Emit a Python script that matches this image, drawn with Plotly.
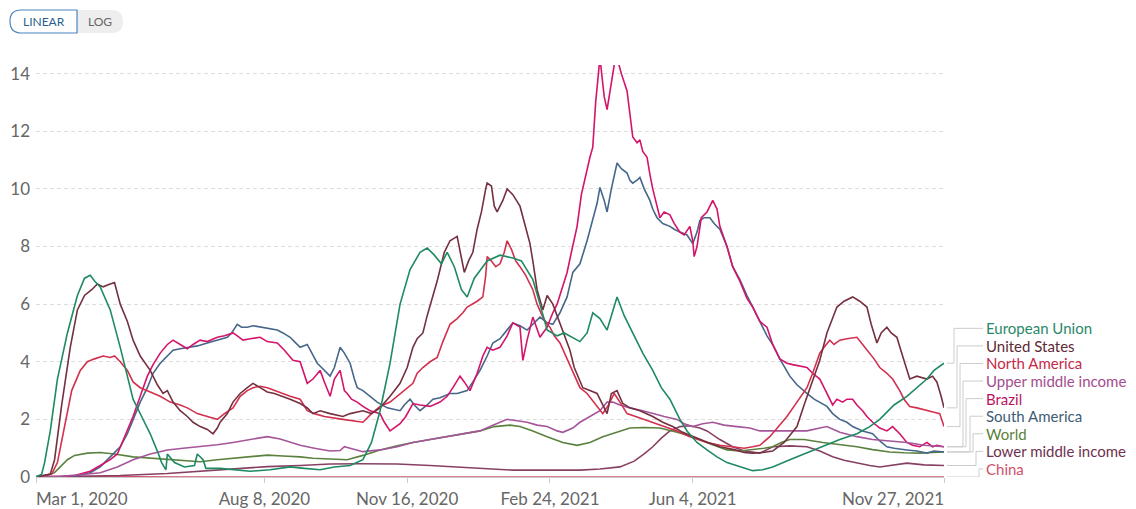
import pandas as pd
import plotly.graph_objects as go

START = pd.Timestamp("2020-03-01")

# days since Mar 1, 2020 / 7-day avg deaths per million
eu_days = [0, 4, 6, 10, 15, 22, 29, 34, 38, 41, 45, 52, 59, 68, 74, 80, 85, 88, 91, 92,
           97, 104, 111, 113, 117, 119, 129, 150, 164, 178, 188, 199, 209, 220, 229, 235, 241, 248, 255, 262,
           269, 274, 279, 284, 288, 293, 298, 302, 307, 316, 325, 334, 340, 348, 353, 358, 365, 370, 381, 386,
           390, 395, 400, 404, 407, 412, 418, 425, 432, 438, 444, 451, 456, 463, 470, 477, 484, 493, 502, 509,
           516, 528, 538, 551, 563, 575, 584, 591, 601, 610, 617, 624, 629, 636]
eu_vals = [0, 0.1, 0.5, 1.6, 3.4, 5.0, 6.3, 6.9, 7.0, 6.8, 6.6, 5.8, 4.5, 2.7, 2.1, 1.5, 0.9, 0.5, 0.25, 0.8,
           0.5, 0.35, 0.4, 0.8, 0.6, 0.3, 0.3, 0.2, 0.25, 0.35, 0.3, 0.25, 0.35, 0.4, 0.6, 1.2, 2.3, 3.95, 6.0, 7.2,
           7.8, 7.95, 7.7, 7.4, 7.8, 7.3, 6.5, 6.25, 6.9, 7.5, 7.7, 7.6, 7.5, 6.85, 6.0, 5.1, 4.9, 5.0, 4.7, 5.0,
           5.7, 5.5, 5.1, 5.8, 6.25, 5.6, 5.0, 4.3, 3.7, 3.1, 2.7, 2.0, 1.6, 1.2, 0.94, 0.7, 0.5, 0.35, 0.22, 0.25,
           0.35, 0.6, 0.8, 1.05, 1.3, 1.5, 1.75, 2.0, 2.5, 2.8, 3.1, 3.4, 3.7, 3.95]

us_days = [0, 10, 13, 18, 24, 29, 34, 39, 43, 47, 52, 55, 59, 64, 68, 73, 80, 85, 89, 92,
           96, 101, 106, 110, 115, 120, 124, 127, 129, 134, 138, 143, 148, 152, 157, 162, 167, 173, 178, 185,
           190, 194, 199, 206, 215, 220, 229, 235, 241, 248, 255, 260, 264, 267, 271, 274, 278, 281, 283, 286,
           290, 295, 298, 300, 303, 306, 309, 312, 315, 316, 319, 321, 323, 327, 330, 334, 339, 342, 346, 348,
           351, 355, 358, 362, 365, 369, 374, 377, 383, 388, 393, 397, 400, 403, 407, 411, 416, 423, 432, 439,
           446, 453, 460, 468, 479, 489, 496, 502, 509, 516, 524, 533, 538, 543, 549, 554, 561, 566, 572, 577,
           582, 585, 589, 592, 596, 599, 603, 607, 612, 617, 624, 628, 631, 634, 636]
us_vals = [0, 0.1, 0.6, 2.5, 4.5, 5.8, 6.3, 6.5, 6.7, 6.6, 6.7, 6.75, 6.0, 5.4, 4.75, 4.2, 3.7, 3.2, 2.9, 3.0,
           2.6, 2.3, 2.1, 1.9, 1.75, 1.65, 1.5, 1.7, 1.9, 2.2, 2.6, 2.9, 3.1, 3.25, 3.1, 2.95, 2.9, 2.8, 2.7, 2.55,
           2.4, 2.2, 2.3, 2.2, 2.1, 2.2, 2.3, 2.2, 2.4, 2.8, 3.25, 3.8, 4.5, 4.8, 5.0, 5.6, 6.25, 6.8, 7.2, 7.8,
           8.2, 8.35, 7.6, 7.1, 7.5, 7.8, 8.6, 9.2, 10.0, 10.2, 10.1, 9.4, 9.2, 9.6, 10.0, 9.8, 9.4, 8.8, 8.1, 7.5,
           6.5, 5.8, 6.3, 6.0, 5.6, 5.1, 4.4, 3.8, 3.1, 3.0, 2.9, 2.5, 2.2, 2.9, 3.0, 2.55, 2.4, 2.3, 2.1, 1.9,
           1.75, 1.55, 1.4, 1.25, 1.05, 0.95, 0.85, 0.83, 0.85, 0.9, 1.2, 1.75, 2.5, 3.2, 4.05, 5.0, 5.9, 6.1, 6.25, 6.1,
           5.9, 5.3, 4.65, 5.0, 5.2, 5.0, 4.85, 4.2, 3.4, 3.5, 3.4, 3.5, 3.3, 2.8, 2.4]

na_days = [0, 11, 15, 20, 25, 31, 36, 41, 47, 52, 55, 59, 64, 68, 73, 80, 87, 94, 101, 106,
           113, 120, 127, 132, 138, 143, 148, 152, 157, 162, 167, 173, 178, 185, 190, 195, 202, 215, 222, 229,
           235, 241, 248, 253, 258, 264, 267, 271, 276, 281, 285, 290, 295, 299, 302, 306, 309, 313, 315, 316,
           319, 322, 325, 328, 330, 333, 336, 339, 343, 348, 351, 355, 358, 360, 363, 367, 371, 376, 381, 386,
           391, 397, 401, 405, 409, 414, 423, 432, 440, 449, 458, 470, 479, 488, 496, 502, 507, 514, 519, 526,
           533, 540, 544, 549, 552, 556, 559, 563, 568, 575, 579, 584, 587, 591, 596, 600, 605, 608, 612, 617,
           624, 629, 633, 636]
na_vals = [0, 0.1, 0.5, 1.8, 3.0, 3.7, 4.0, 4.1, 4.2, 4.15, 4.2, 4.0, 3.7, 3.3, 3.1, 2.95, 2.8, 2.6, 2.5, 2.4,
           2.2, 2.1, 2.0, 2.2, 2.4, 2.8, 3.0, 3.1, 3.15, 3.1, 3.0, 2.9, 2.8, 2.7, 2.3, 2.2, 2.1, 2.0, 1.95, 1.9,
           2.2, 2.45, 2.6, 2.8, 3.0, 3.25, 3.6, 3.8, 4.0, 4.15, 4.7, 5.3, 5.5, 5.7, 5.9, 6.0, 6.1, 6.25, 7.0, 7.65,
           7.5, 7.3, 7.4, 7.8, 8.2, 7.9, 7.5, 7.3, 7.0, 6.5, 6.0, 5.55, 5.3, 5.2, 4.9, 4.65, 4.2, 3.6, 3.1, 2.9,
           2.6, 2.2, 2.5, 2.9, 2.6, 2.2, 2.05, 1.9, 1.75, 1.6, 1.4, 1.2, 1.1, 1.05, 1.0, 1.05, 1.1, 1.4, 1.7, 2.1,
           2.6, 3.1, 3.6, 4.3, 4.5, 4.75, 4.6, 4.75, 4.8, 4.85, 4.6, 4.3, 4.1, 3.8, 3.6, 3.4, 3.0, 2.7, 2.45, 2.4,
           2.3, 2.25, 2.2, 1.75]

umi_days = [0, 17, 31, 45, 57, 68, 80, 92, 103, 115, 127, 138, 150, 162, 171, 178, 185, 195, 206, 213,
            216, 220, 229, 241, 253, 264, 276, 288, 299, 311, 320, 330, 337, 344, 351, 358, 365, 369, 376, 381,
            388, 395, 400, 404, 409, 416, 425, 432, 440, 449, 454, 460, 467, 474, 482, 491, 500, 507, 516, 528,
            540, 549, 554, 563, 575, 586, 598, 610, 622, 636]
umi_vals = [0, 0.02, 0.08, 0.15, 0.35, 0.6, 0.8, 0.94, 1.0, 1.05, 1.12, 1.2, 1.3, 1.4, 1.32, 1.2, 1.1, 1.0, 0.9, 0.92,
            1.05, 1.0, 0.88, 0.94, 1.05, 1.2, 1.3, 1.4, 1.5, 1.6, 1.8, 2.0, 1.95, 1.9, 1.8, 1.75, 1.6, 1.55, 1.7, 1.9,
            2.1, 2.3, 2.6, 2.6, 2.5, 2.4, 2.3, 2.2, 2.1, 2.0, 1.85, 1.75, 1.85, 1.9, 1.8, 1.75, 1.7, 1.6, 1.6, 1.6,
            1.6, 1.7, 1.75, 1.55, 1.4, 1.3, 1.25, 1.2, 1.1, 1.05]

brazil_days = [0, 17, 27, 38, 45, 52, 57, 62, 68, 73, 78, 82, 87, 92, 96, 101, 106, 110, 115, 120,
               127, 132, 138, 141, 145, 150, 157, 162, 169, 174, 180, 185, 190, 194, 199, 202, 206, 209, 213, 216,
               218, 221, 225, 229, 234, 241, 244, 248, 251, 255, 259, 264, 269, 276, 283, 288, 292, 297, 300, 304,
               309, 313, 316, 320, 325, 330, 334, 339, 341, 344, 348, 351, 353, 358, 362, 365, 368, 372, 375, 379,
               382, 386, 388, 390, 392, 395, 398, 400, 403, 405, 407, 410, 414, 416, 418, 421, 423, 425, 428, 430,
               432, 435, 437, 440, 444, 447, 451, 454, 458, 460, 461, 463, 466, 470, 474, 477, 479, 484, 488, 493,
               498, 502, 507, 512, 516, 521, 526, 530, 535, 540, 544, 549, 552, 556, 558, 561, 565, 568, 572, 575,
               579, 582, 586, 591, 596, 600, 605, 610, 614, 619, 624, 628, 631, 636]
brazil_vals = [0, 0, 0.05, 0.2, 0.4, 0.6, 0.8, 1.4, 2.1, 2.8, 3.5, 3.9, 4.3, 4.6, 4.75, 4.6, 4.45, 4.6, 4.75, 4.7,
               4.85, 4.9, 5.0, 4.9, 4.75, 4.8, 4.85, 4.7, 4.65, 4.4, 4.05, 4.0, 3.25, 3.4, 3.7, 3.3, 2.8, 3.4, 3.7, 3.0,
               2.9, 2.7, 2.6, 2.45, 2.3, 2.2, 1.9, 1.6, 1.7, 1.85, 2.1, 2.55, 2.5, 2.45, 2.6, 2.8, 3.1, 3.5, 3.3, 3.0,
               3.6, 4.2, 4.5, 4.4, 4.5, 4.9, 5.35, 5.2, 4.05, 4.75, 5.55, 5.1, 4.85, 5.2, 5.7, 6.0, 6.5, 7.1, 7.8, 8.7,
               9.8, 10.75, 11.1, 11.45, 13.0, 14.55, 13.2, 12.75, 13.6, 14.3, 14.55, 14.0, 13.4, 12.6, 11.8, 11.6, 11.7, 11.3, 11.1, 10.5,
               10.0, 9.4, 9.0, 9.2, 9.1, 8.8, 8.5, 8.4, 8.7, 8.2, 7.65, 8.0, 9.0, 9.2, 9.6, 9.3, 8.7, 8.0, 7.3, 6.8,
               6.2, 5.9, 5.4, 5.2, 4.6, 4.1, 3.95, 3.9, 3.85, 3.8, 3.6, 3.4, 3.1, 2.7, 2.5, 2.7, 2.6, 2.7, 2.7, 2.5,
               2.3, 2.1, 1.9, 1.7, 1.6, 1.75, 1.5, 1.2, 1.1, 1.05, 1.2, 1.05, 1.1, 1.05]

sa_days = [0, 24, 38, 45, 52, 59, 64, 68, 73, 78, 82, 87, 92, 96, 101, 106, 113, 120, 127, 134,
           137, 141, 144, 148, 152, 157, 162, 169, 173, 178, 181, 185, 190, 194, 197, 200, 206, 209, 213, 216,
           220, 223, 225, 229, 234, 239, 246, 250, 255, 258, 262, 265, 269, 274, 278, 283, 290, 295, 302, 306,
           311, 316, 320, 325, 330, 334, 339, 344, 348, 353, 358, 362, 367, 372, 376, 381, 386, 389, 393, 395,
           398, 400, 403, 407, 410, 414, 416, 418, 421, 423, 426, 430, 432, 435, 439, 444, 447, 451, 456, 460,
           463, 465, 468, 472, 475, 479, 484, 488, 493, 498, 502, 507, 512, 516, 521, 528, 533, 540, 545, 554,
           558, 563, 568, 572, 579, 586, 591, 596, 601, 610, 617, 624, 629, 636]
sa_vals = [0, 0, 0.15, 0.35, 0.7, 1.05, 1.5, 2.0, 2.6, 3.1, 3.6, 3.95, 4.2, 4.4, 4.45, 4.5, 4.55, 4.65, 4.75, 4.85,
           5.0, 5.3, 5.2, 5.2, 5.25, 5.2, 5.15, 5.1, 5.0, 4.85, 4.7, 4.5, 4.6, 4.2, 3.95, 3.8, 3.5, 3.8, 4.5, 4.3,
           3.95, 3.4, 3.1, 3.0, 2.8, 2.6, 2.4, 2.35, 2.3, 2.5, 2.7, 2.5, 2.3, 2.5, 2.7, 2.75, 2.9, 2.9, 3.0, 3.3,
           3.7, 4.2, 4.65, 4.8, 5.1, 5.35, 5.25, 5.1, 5.3, 5.55, 5.35, 5.3, 5.7, 6.25, 7.1, 7.4, 8.2, 8.8, 9.5, 10.05,
           9.6, 9.2, 10.0, 10.9, 10.7, 10.55, 10.3, 10.2, 10.3, 10.4, 10.0, 9.6, 9.3, 9.0, 8.8, 8.7, 8.6, 8.5, 8.4, 8.1,
           8.5, 8.9, 9.0, 9.0, 8.8, 8.6, 8.0, 7.3, 6.85, 6.3, 5.9, 5.4, 4.9, 4.6, 4.1, 3.5, 3.2, 2.9, 2.7, 2.45,
           2.2, 2.0, 1.9, 1.75, 1.6, 1.5, 1.25, 1.05, 1.0, 0.94, 0.9, 0.83, 0.9, 0.87]

world_days = [0, 6, 13, 18, 22, 27, 36, 45, 55, 68, 80, 92, 104, 115, 127, 138, 150, 162, 173, 185,
              194, 206, 218, 229, 241, 253, 264, 276, 288, 299, 311, 321, 332, 339, 348, 358, 369, 379, 388, 397,
              407, 416, 426, 437, 449, 460, 472, 484, 493, 502, 510, 516, 522, 528, 538, 551, 563, 575, 586, 598,
              608, 619, 628, 636]
world_vals = [0, 0.02, 0.15, 0.4, 0.6, 0.75, 0.83, 0.85, 0.8, 0.7, 0.65, 0.6, 0.55, 0.53, 0.6, 0.65, 0.72, 0.76, 0.73, 0.7,
              0.65, 0.62, 0.6, 0.75, 0.94, 1.08, 1.2, 1.3, 1.4, 1.5, 1.6, 1.75, 1.8, 1.75, 1.6, 1.4, 1.2, 1.1, 1.2, 1.4,
              1.55, 1.7, 1.72, 1.7, 1.55, 1.4, 1.15, 0.94, 0.9, 0.94, 1.0, 1.05, 1.2, 1.3, 1.3, 1.2, 1.12, 1.05, 0.95, 0.87,
              0.84, 0.83, 0.85, 0.87]

lmi_days = [0, 31, 59, 92, 115, 138, 162, 185, 206, 227, 253, 276, 297, 318, 334, 358, 381, 395, 409, 419,
            426, 432, 438, 444, 451, 458, 465, 470, 479, 488, 496, 507, 516, 528, 540, 549, 558, 566, 575, 584,
            591, 600, 610, 622, 636]
lmi_vals = [0, 0.02, 0.05, 0.12, 0.2, 0.3, 0.36, 0.4, 0.45, 0.46, 0.45, 0.4, 0.35, 0.28, 0.24, 0.24, 0.24, 0.28, 0.35, 0.55,
            0.8, 1.05, 1.35, 1.6, 1.75, 1.78, 1.7, 1.6, 1.3, 1.05, 0.9, 0.83, 1.05, 1.08, 1.05, 0.9, 0.7, 0.58, 0.48, 0.4,
            0.35, 0.4, 0.48, 0.42, 0.4]

china_days = [0, 30, 100, 200, 300, 400, 500, 636]
china_vals = [0.02, 0.01, 0.0, 0.0, 0.0, 0.0, 0.0, 0.0]

# name, days, values, line colour, label colour
series = [
    ("European Union", eu_days, eu_vals, "#1E8A62", "#2A8868"),
    ("United States", us_days, us_vals, "#74303F", "#5E2A36"),
    ("North America", na_days, na_vals, "#D3304E", "#C42A48"),
    ("Upper middle income", umi_days, umi_vals, "#A5559A", "#A24D8E"),
    ("Brazil", brazil_days, brazil_vals, "#D4146A", "#B8145E"),
    ("South America", sa_days, sa_vals, "#46668A", "#3E5C76"),
    ("World", world_days, world_vals, "#5B813F", "#5B7F3A"),
    ("Lower middle income", lmi_days, lmi_vals, "#874063", "#70304F"),
    ("China", china_days, china_vals, "#D6506C", "#D2506A"),
]

tick_dates = ["2020-03-01", "2020-08-08", "2020-11-16", "2021-02-24", "2021-06-04", "2021-11-27"]
tick_text = ["", "Aug 8, 2020", "Nov 16, 2020", "Feb 24, 2021", "Jun 4, 2021", ""]

FONT = "Lato, 'DejaVu Sans', sans-serif"
TICK_FONT = dict(family=FONT, size=17, color="#666666")

fig = go.Figure()
for name, days, vals, color, _ in reversed(series):
    x = START + pd.to_timedelta(days, unit="D")
    fig.add_trace(go.Scatter(
        x=x, y=vals, name=name, mode="lines",
        line=dict(color=color, width=1.6),
        showlegend=False,
    ))

# end labels with connector lines
shapes = []
annotations = []
elbows = [10, 13, 16, 19, 22, 26, 29, 32, 35]
for i, (name, days, vals, _, label_color) in enumerate(series):
    lab_y = 0.28 + 0.61 * (len(series) - 1 - i)
    end_y = vals[-1]
    e = elbows[i]
    shapes.append(dict(
        type="path", xref="paper", yref="y", xsizemode="pixel", xanchor=1,
        path=f"M 3,{end_y} L {e},{end_y} L {e},{lab_y} L 39,{lab_y}",
        line=dict(color="#cccccc", width=1),
    ))
    annotations.append(dict(
        text=name, xref="paper", yref="y", x=1, y=lab_y, xshift=40,
        xanchor="left", yanchor="middle", showarrow=False,
        font=dict(family=FONT, size=15, color=label_color),
    ))

# first / last date labels, aligned to the plot edges
annotations.append(dict(text="Mar 1, 2020", xref="paper", yref="paper", x=0, y=0,
                        xanchor="left", yanchor="top", xshift=-2, yshift=-9, showarrow=False,
                        font=TICK_FONT))
annotations.append(dict(text="Nov 27, 2021", xref="paper", yref="paper", x=1, y=0,
                        xanchor="right", yanchor="top", xshift=2, yshift=-9, showarrow=False,
                        font=TICK_FONT))

# LINEAR / LOG toggle (pixel offsets from the plot's top-left corner)
r = 11
x0, xm, x1, yb, yt = -26, 41, 87, 32, 55
shapes.append(dict(
    type="path", xref="paper", yref="paper", xsizemode="pixel", ysizemode="pixel",
    xanchor=0, yanchor=1,
    path=f"M {xm},{yb} L {x1 - r},{yb} Q {x1},{yb} {x1},{yb + r} Q {x1},{yt} {x1 - r},{yt} L {xm},{yt} Z",
    fillcolor="#eeeeee", line=dict(width=0),
))
shapes.append(dict(
    type="path", xref="paper", yref="paper", xsizemode="pixel", ysizemode="pixel",
    xanchor=0, yanchor=1,
    path=f"M {x0 + r},{yb} L {xm},{yb} L {xm},{yt} L {x0 + r},{yt} Q {x0},{yt} {x0},{yt - r} Q {x0},{yb} {x0 + r},{yb} Z",
    fillcolor="#ffffff", line=dict(color="#4a86bf", width=1.2),
))
annotations.append(dict(text="LINEAR", xref="paper", yref="paper", x=0, y=1,
                        xshift=(x0 + xm) / 2, yshift=(yb + yt) / 2,
                        xanchor="center", yanchor="middle", showarrow=False,
                        font=dict(family=FONT, size=12, color="#2c5f8f")))
annotations.append(dict(text="LOG", xref="paper", yref="paper", x=0, y=1,
                        xshift=(xm + x1) / 2, yshift=(yb + yt) / 2,
                        xanchor="center", yanchor="middle", showarrow=False,
                        font=dict(family=FONT, size=12, color="#666666")))

fig.update_layout(
    width=1136, height=509,
    margin=dict(l=28, r=200, t=57, b=40),
    plot_bgcolor="white", paper_bgcolor="white",
    font=dict(family=FONT, color="#666666"),
    shapes=shapes,
    annotations=annotations,
    hovermode="x unified",
    xaxis=dict(
        type="date",
        range=["2020-03-01", "2021-11-27"],
        tickvals=tick_dates, ticktext=tick_text,
        showgrid=False, zeroline=False,
        showline=True, linecolor="#cccccc",
        ticks="outside", ticklen=5, tickcolor="#cccccc",
        ticklabelstandoff=2,
        tickfont=TICK_FONT,
        automargin=False,
    ),
    yaxis=dict(
        range=[0, 14.3],
        tickvals=[0, 2, 4, 6, 8, 10, 12, 14],
        showgrid=True, gridcolor="#dddddd", griddash="4px,3px",
        zeroline=False, showline=False, ticks="",
        ticklabelstandoff=5,
        tickfont=TICK_FONT,
        automargin=False,
    ),
)

fig.write_html("out.html")
